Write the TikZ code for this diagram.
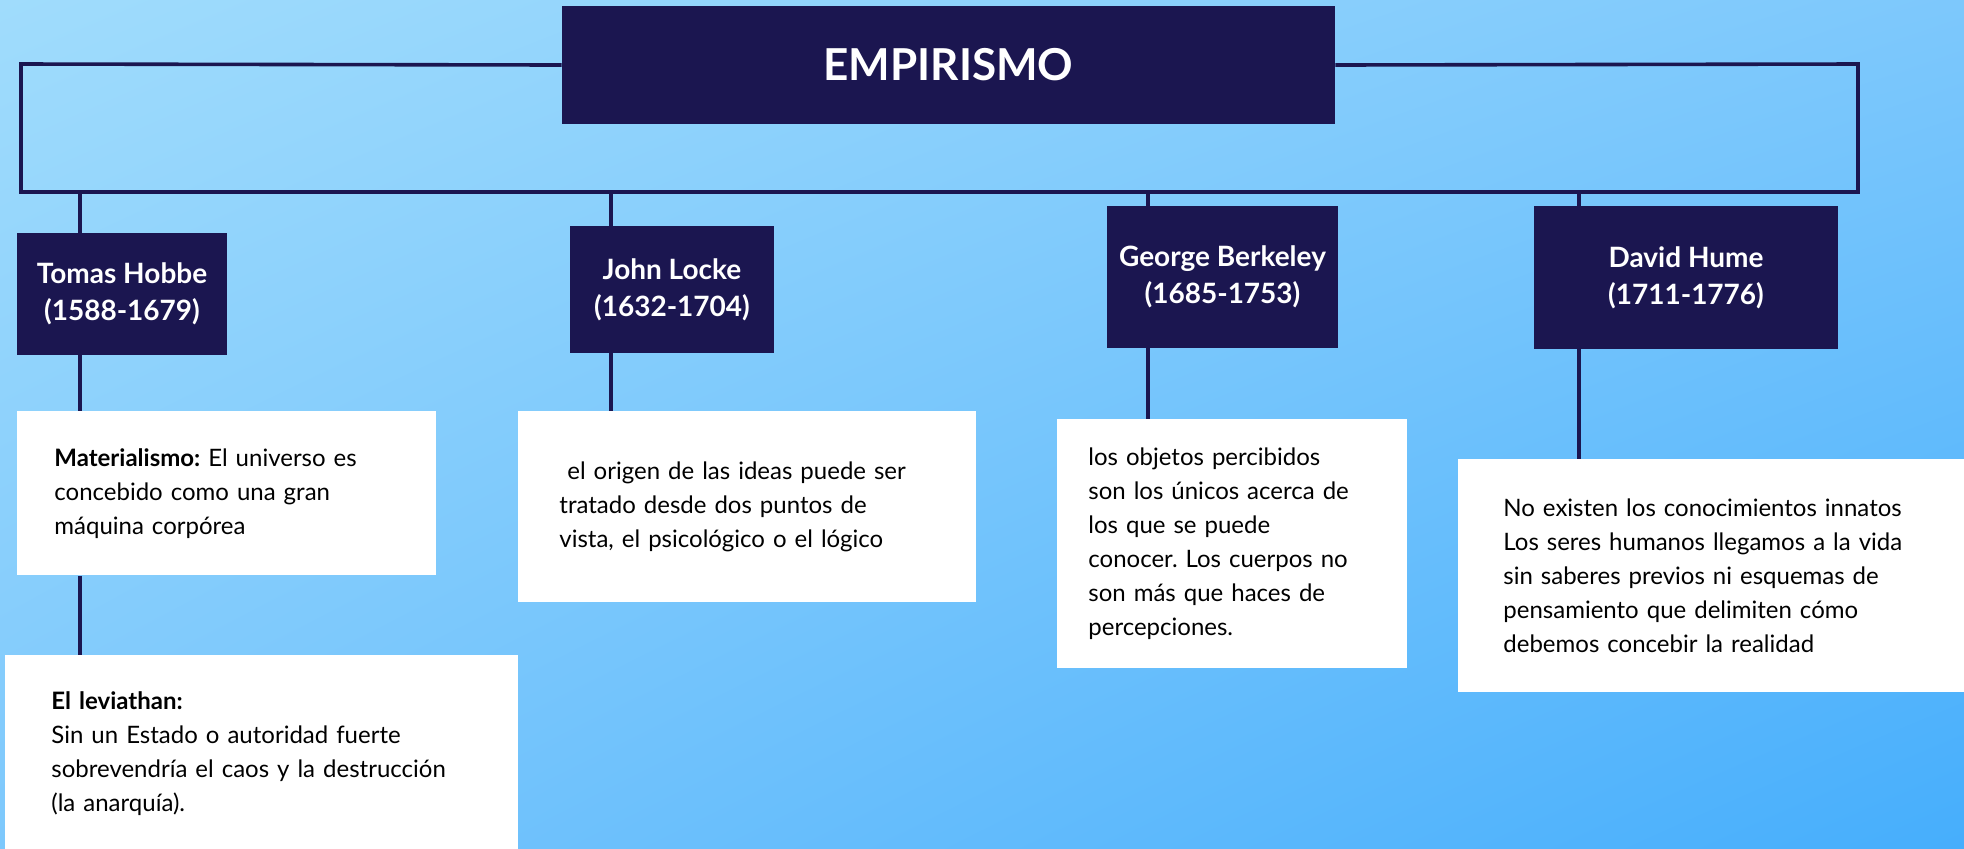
\documentclass[tikz,border=0pt]{standalone}
\usepackage{fontspec}
\setmainfont{Lato}
\usepackage{xcolor}
\usepackage{tikz}
\usetikzlibrary{shadings}
\frenchspacing

\definecolor{navy}{HTML}{1B1650}
\definecolor{skyA}{HTML}{A0DCFC}
\definecolor{skyB}{HTML}{7DC8FC}
\definecolor{skyC}{HTML}{46AEFC}

\tikzset{
  namebox/.style={fill=navy, text=white, align=center, inner sep=0pt,
    font=\bfseries\fontsize{14}{18.5}\selectfont},
  descbox/.style={fill=white, text=black, align=left, anchor=north west, inner ysep=0pt,
    font=\fontsize{12}{17}\selectfont},
  link/.style={draw=navy, line width=1.8pt}
}

\begin{document}
\begin{tikzpicture}[x=0.5pt, y=-0.5pt]
\useasboundingbox (0,0) rectangle (1964,848);
\shade[upper left=skyA, upper right=skyB, lower left=skyB, lower right=skyC] (0,0) rectangle (1964,848);

% title
\node[namebox, minimum width=386.5pt, minimum height=59pt, font=\bfseries\fontsize{22}{26}\selectfont] (title) at (948.5,65) {EMPIRISMO};

% philosophers
\node[namebox, minimum width=105pt, minimum height=61pt] (hobbe) at (122,294) {Tomas Hobbe\\(1588-1679)};
\node[namebox, minimum width=102pt, minimum height=63.5pt] (locke) at (672,289.5) {John Locke\\(1632-1704)};
\node[namebox, minimum width=115.5pt, minimum height=71pt] (berkeley) at (1222.5,277) {George Berkeley\\(1685-1753)};
\node[namebox, minimum width=152pt, minimum height=71.5pt] (hume) at (1686,277.5) {David Hume\\(1711-1776)};

% ideas
\node[descbox, inner xsep=18.5pt, text width=172.5pt, minimum height=82pt] (materialismo) at (17,411)
  {\textbf{Materialismo:} El universo es\\concebido como una gran\\máquina corpórea};
\node[descbox, inner xsep=23pt, text width=210.5pt, minimum height=98pt] (leviathan) at (5,655)
  {\textbf{El leviathan:}\\Sin un Estado o autoridad fuerte\\sobrevendría el caos y la destrucción\\(la anarquía).};
\node[descbox, inner xsep=20.5pt, text width=188pt, minimum height=95.5pt] (ideas) at (518,411)
  {\ el origen de las ideas puede ser\\tratado desde dos puntos de\\vista, el psicológico o el lógico};
\node[descbox, inner xsep=15.5pt, text width=144pt, minimum height=124.5pt] (objetos) at (1057,419)
  {los objetos percibidos\\son los únicos acerca de\\los que se puede\\conocer. Los cuerpos no\\son más que haces de\\percepciones.};
\node[descbox, inner xsep=22.5pt, text width=215pt, minimum height=116.5pt] (innatos) at (1458,459)
  {No existen los conocimientos innatos\\Los seres humanos llegamos a la vida\\sin saberes previos ni esquemas de\\pensamiento que delimiten cómo\\debemos concebir la realidad};

% frame round the title
\coordinate (tl) at (21,64);
\coordinate (bl) at (21,192);
\coordinate (br) at (1858,192);
\coordinate (tr) at (1858,64);
\draw[link] (title.west) -- (tl) -- (bl) -- (br) -- (tr) -- (title.east);

% drops
\coordinate (hobbetop) at (80,192);
\coordinate (locketop) at (611,192);
\coordinate (berkeleytop) at (1148,192);
\coordinate (humetop) at (1579,192);

\draw[link] (hobbetop) -- (hobbetop |- hobbe.north);
\draw[link] (hobbetop |- hobbe.south) -- (hobbetop |- materialismo.north);
\draw[link] (hobbetop |- materialismo.south) -- (hobbetop |- leviathan.north);
\draw[link] (locketop) -- (locketop |- locke.north);
\draw[link] (locketop |- locke.south) -- (locketop |- ideas.north);
\draw[link] (berkeleytop) -- (berkeleytop |- berkeley.north);
\draw[link] (berkeleytop |- berkeley.south) -- (berkeleytop |- objetos.north);
\draw[link] (humetop) -- (humetop |- hume.north);
\draw[link] (humetop |- hume.south) -- (humetop |- innatos.north);
\end{tikzpicture}
\end{document}
